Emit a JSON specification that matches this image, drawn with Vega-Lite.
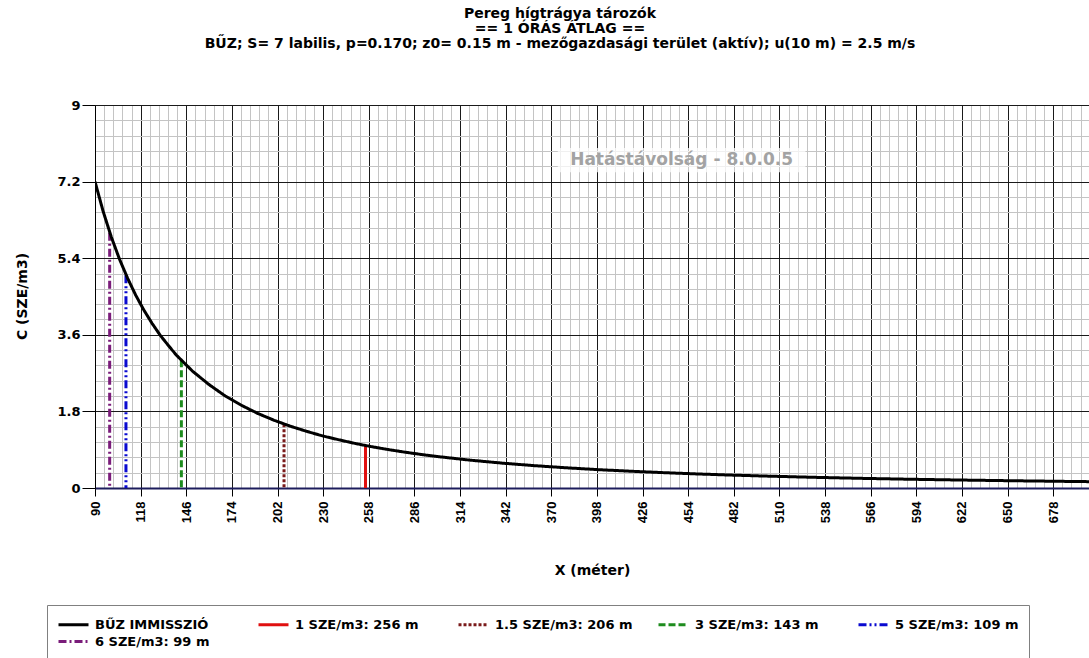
{
  "$schema": "https://vega.github.io/schema/vega-lite/v6.json",
  "width": 994,
  "height": 383,
  "autosize": {"type": "none"},
  "padding": {"left": 95, "top": 105, "right": 0, "bottom": 170},
  "background": "white",
  "config": {"view": {"stroke": null}, "font": "DejaVu Sans"},
  "title": {
    "text": ["Pereg hígtrágya tározók", "== 1 ÓRÁS ÁTLAG ==", "BŰZ; S= 7 labilis, p=0.170; z0= 0.15 m - mezőgazdasági terület (aktív); u(10 m) = 2.5 m/s"],
    "font": "DejaVu Sans", "fontSize": 14, "fontWeight": "bold", "lineHeight": 15,
    "anchor": "middle", "offset": 48, "dx": -32, "color": "#000000"
  },
  "datasets": {
    "curve": [
      {"x": 90, "c": 7.2, "series": "BŰZ IMMISSZIÓ"},
      {"x": 95, "c": 6.5, "series": "BŰZ IMMISSZIÓ"},
      {"x": 100, "c": 5.9, "series": "BŰZ IMMISSZIÓ"},
      {"x": 105, "c": 5.38, "series": "BŰZ IMMISSZIÓ"},
      {"x": 110, "c": 4.93, "series": "BŰZ IMMISSZIÓ"},
      {"x": 115, "c": 4.53, "series": "BŰZ IMMISSZIÓ"},
      {"x": 120, "c": 4.18, "series": "BŰZ IMMISSZIÓ"},
      {"x": 125, "c": 3.87, "series": "BŰZ IMMISSZIÓ"},
      {"x": 130, "c": 3.59, "series": "BŰZ IMMISSZIÓ"},
      {"x": 135, "c": 3.35, "series": "BŰZ IMMISSZIÓ"},
      {"x": 140, "c": 3.12, "series": "BŰZ IMMISSZIÓ"},
      {"x": 150, "c": 2.74, "series": "BŰZ IMMISSZIÓ"},
      {"x": 160, "c": 2.43, "series": "BŰZ IMMISSZIÓ"},
      {"x": 170, "c": 2.16, "series": "BŰZ IMMISSZIÓ"},
      {"x": 180, "c": 1.94, "series": "BŰZ IMMISSZIÓ"},
      {"x": 190, "c": 1.75, "series": "BŰZ IMMISSZIÓ"},
      {"x": 200, "c": 1.59, "series": "BŰZ IMMISSZIÓ"},
      {"x": 210, "c": 1.45, "series": "BŰZ IMMISSZIÓ"},
      {"x": 220, "c": 1.33, "series": "BŰZ IMMISSZIÓ"},
      {"x": 230, "c": 1.22, "series": "BŰZ IMMISSZIÓ"},
      {"x": 240, "c": 1.13, "series": "BŰZ IMMISSZIÓ"},
      {"x": 250, "c": 1.044, "series": "BŰZ IMMISSZIÓ"},
      {"x": 260, "c": 0.969, "series": "BŰZ IMMISSZIÓ"},
      {"x": 270, "c": 0.903, "series": "BŰZ IMMISSZIÓ"},
      {"x": 280, "c": 0.843, "series": "BŰZ IMMISSZIÓ"},
      {"x": 290, "c": 0.789, "series": "BŰZ IMMISSZIÓ"},
      {"x": 300, "c": 0.74, "series": "BŰZ IMMISSZIÓ"},
      {"x": 320, "c": 0.655, "series": "BŰZ IMMISSZIÓ"},
      {"x": 340, "c": 0.584, "series": "BŰZ IMMISSZIÓ"},
      {"x": 360, "c": 0.524, "series": "BŰZ IMMISSZIÓ"},
      {"x": 380, "c": 0.473, "series": "BŰZ IMMISSZIÓ"},
      {"x": 400, "c": 0.429, "series": "BŰZ IMMISSZIÓ"},
      {"x": 420, "c": 0.392, "series": "BŰZ IMMISSZIÓ"},
      {"x": 440, "c": 0.359, "series": "BŰZ IMMISSZIÓ"},
      {"x": 460, "c": 0.33, "series": "BŰZ IMMISSZIÓ"},
      {"x": 480, "c": 0.304, "series": "BŰZ IMMISSZIÓ"},
      {"x": 500, "c": 0.282, "series": "BŰZ IMMISSZIÓ"},
      {"x": 530, "c": 0.252, "series": "BŰZ IMMISSZIÓ"},
      {"x": 560, "c": 0.227, "series": "BŰZ IMMISSZIÓ"},
      {"x": 590, "c": 0.206, "series": "BŰZ IMMISSZIÓ"},
      {"x": 620, "c": 0.188, "series": "BŰZ IMMISSZIÓ"},
      {"x": 650, "c": 0.172, "series": "BŰZ IMMISSZIÓ"},
      {"x": 680, "c": 0.158, "series": "BŰZ IMMISSZIÓ"},
      {"x": 700, "c": 0.149, "series": "BŰZ IMMISSZIÓ"}
    ],
    "thresholds": [
      {"x": 256, "c": 1.0, "series": "1 SZE/m3: 256 m"},
      {"x": 206, "c": 1.5, "series": "1.5 SZE/m3: 206 m"},
      {"x": 143, "c": 3.0, "series": "3 SZE/m3: 143 m"},
      {"x": 109, "c": 5.0, "series": "5 SZE/m3: 109 m"},
      {"x": 99, "c": 6.0, "series": "6 SZE/m3: 99 m"}
    ],
    "note": [{"label": "Hatástávolság  - 8.0.0.5"}]
  },
  "layer": [
    {
      "data": {"name": "thresholds"},
      "mark": {"type": "rule", "strokeWidth": 3},
      "encoding": {
        "x": {
          "field": "x", "type": "quantitative",
          "scale": {"domain": [90, 700], "nice": false, "zero": false},
          "axis": {
            "orient": "bottom",
            "values": [90, 118, 146, 174, 202, 230, 258, 286, 314, 342, 370, 398, 426, 454, 482, 510, 538, 566, 594, 622, 650, 678],
            "format": "d",
            "grid": true, "gridColor": "#1a1a1a", "gridWidth": 1, "gridOpacity": 1,
            "domain": true, "domainColor": "#1c1c5c", "domainWidth": 2,
            "ticks": true, "tickColor": "#000000", "tickSize": 8, "tickWidth": 1,
            "labelAngle": -90, "labelFont": "Liberation Sans", "labelFontSize": 13, "labelFontWeight": "bold", "labelColor": "#000000", "labelPadding": 5,
            "title": "X (méter)", "titleFont": "DejaVu Sans", "titleFontSize": 14, "titleFontWeight": "bold", "titleColor": "#000000",
            "titleY": 82, "titleBaseline": "middle"
          }
        },
        "y": {
          "field": "c", "type": "quantitative",
          "scale": {"domain": [0, 9], "nice": false, "zero": true},
          "axis": {
            "orient": "left",
            "values": [0, 1.8, 3.6, 5.4, 7.2, 9],
            "labelExpr": "'' + datum.value",
            "grid": true, "gridColor": "#1a1a1a", "gridWidth": 1, "gridOpacity": 1,
            "domain": true, "domainColor": "#000000", "domainWidth": 1,
            "ticks": true, "tickColor": "#000000", "tickSize": 13, "tickWidth": 1,
            "labelFont": "DejaVu Sans", "labelFontSize": 13, "labelFontWeight": "bold", "labelColor": "#000000", "labelPadding": 2,
            "title": "C (SZE/m3)", "titleFont": "DejaVu Sans", "titleFontSize": 14, "titleFontWeight": "bold", "titleColor": "#000000",
            "titleX": -73, "titleY": 191, "titleAngle": -90, "titleBaseline": "middle", "titleAlign": "center"
          }
        },
        "y2": {"datum": 0},
        "color": {
          "field": "series", "type": "nominal",
          "scale": {
            "domain": ["BŰZ IMMISSZIÓ", "1 SZE/m3: 256 m", "1.5 SZE/m3: 206 m", "3 SZE/m3: 143 m", "5 SZE/m3: 109 m", "6 SZE/m3: 99 m"],
            "range": ["#000000", "#e01010", "#7a1a1a", "#1e8c1e", "#0a0ad0", "#7a1c7a"]
          },
          "legend": {
            "title": null, "orient": "none", "legendX": -48, "legendY": 500,
            "direction": "horizontal", "columns": 5, "gridAlign": "all", "columnPadding": 19, "rowPadding": 0,
            "symbolType": "M-1.875,0H1.875", "symbolSize": 256, "symbolStrokeWidth": 3, "symbolOffset": 7,
            "labelFont": "DejaVu Sans", "labelFontSize": 13, "labelFontWeight": "bold", "labelColor": "#000000", "labelOffset": 12, "labelLimit": 300,
            "padding": 10, "fillColor": "#ffffff", "strokeColor": "#808080"
          }
        },
        "strokeDash": {
          "field": "series", "type": "nominal",
          "scale": {
            "domain": ["BŰZ IMMISSZIÓ", "1 SZE/m3: 256 m", "1.5 SZE/m3: 206 m", "3 SZE/m3: 143 m", "5 SZE/m3: 109 m", "6 SZE/m3: 99 m"],
            "range": [[1, 0], [1, 0], [3, 2], [7, 3], [8, 3, 2, 3, 2, 3], [8, 3, 2, 3]]
          },
          "legend": {
            "title": null, "orient": "none", "legendX": -48, "legendY": 500,
            "direction": "horizontal", "columns": 5, "gridAlign": "all", "columnPadding": 19, "rowPadding": 0,
            "symbolType": "M-1.875,0H1.875", "symbolSize": 256, "symbolStrokeWidth": 3, "symbolOffset": 7,
            "labelFont": "DejaVu Sans", "labelFontSize": 13, "labelFontWeight": "bold", "labelColor": "#000000", "labelOffset": 12, "labelLimit": 300,
            "padding": 10, "fillColor": "#ffffff", "strokeColor": "#808080"
          }
        }
      }
    },
    {
      "data": {"name": "curve"},
      "mark": {"type": "line", "strokeWidth": 3, "clip": true},
      "encoding": {
        "x": {
          "field": "x", "type": "quantitative",
          "axis": {
            "orient": "bottom",
            "values": [95.6, 101.2, 106.8, 112.4, 123.6, 129.2, 134.8, 140.4, 151.6, 157.2, 162.8, 168.4, 179.6, 185.2, 190.8, 196.4, 207.6, 213.2, 218.8, 224.4, 235.6, 241.2, 246.8, 252.4, 263.6, 269.2, 274.8, 280.4, 291.6, 297.2, 302.8, 308.4, 319.6, 325.2, 330.8, 336.4, 347.6, 353.2, 358.8, 364.4, 375.6, 381.2, 386.8, 392.4, 403.6, 409.2, 414.8, 420.4, 431.6, 437.2, 442.8, 448.4, 459.6, 465.2, 470.8, 476.4, 487.6, 493.2, 498.8, 504.4, 515.6, 521.2, 526.8, 532.4, 543.6, 549.2, 554.8, 560.4, 571.6, 577.2, 582.8, 588.4, 599.6, 605.2, 610.8, 616.4, 627.6, 633.2, 638.8, 644.4, 655.6, 661.2, 666.8, 672.4, 683.6, 689.2, 694.8],
            "grid": true, "gridColor": "#c4c4c4", "gridWidth": 1,
            "domain": false, "ticks": false, "labels": false, "title": null
          }
        },
        "y": {
          "field": "c", "type": "quantitative",
          "axis": {
            "orient": "left",
            "values": [0.36, 0.72, 1.08, 1.44, 2.16, 2.52, 2.88, 3.24, 3.96, 4.32, 4.68, 5.04, 5.76, 6.12, 6.48, 6.84, 7.56, 7.92, 8.28, 8.64],
            "grid": true, "gridColor": "#c4c4c4", "gridWidth": 1,
            "domain": false, "ticks": false, "labels": false, "title": null
          }
        },
        "color": {"field": "series", "type": "nominal"},
        "strokeDash": {"field": "series", "type": "nominal"}
      }
    },
    {
      "data": {"name": "note"},
      "mark": {"type": "rect", "fill": "#ffffff", "fillOpacity": 0.75},
      "encoding": {
        "x": {"datum": 374, "type": "quantitative", "axis": null},
        "x2": {"datum": 526},
        "y": {"datum": 7.42, "type": "quantitative", "axis": null},
        "y2": {"datum": 7.99}
      }
    },
    {
      "data": {"name": "note"},
      "mark": {"type": "text", "font": "DejaVu Sans", "fontSize": 17, "fontWeight": "bold", "color": "#a3a3a3", "align": "center", "baseline": "middle"},
      "encoding": {
        "x": {"datum": 450, "type": "quantitative", "axis": null},
        "y": {"datum": 7.71, "type": "quantitative", "axis": null},
        "text": {"field": "label"}
      }
    }
  ],
  "resolve": {"axis": {"x": "independent", "y": "independent"}}
}
